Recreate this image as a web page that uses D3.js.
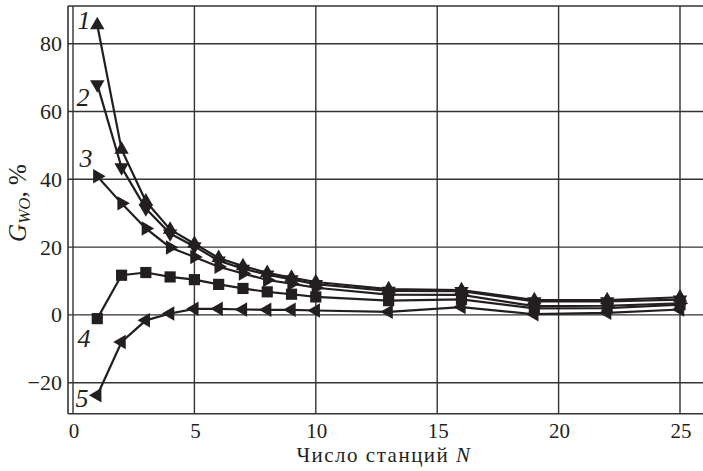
<!DOCTYPE html>
<html><head><meta charset="utf-8">
<script src="https://cdn.jsdelivr.net/npm/d3@7"></script>
<style>body{margin:0;background:#fff}svg{display:block}text{font-family:"Liberation Serif","DejaVu Serif",serif;fill:#231f20}</style>
</head><body><svg id="c" width="703" height="471"></svg>
<script>
const xs = [1,2,3,4,5,6,7,8,9,10,13,16,19,22,25];
const s1 = [85.5,48.8,33.5,25.2,21,16.8,14.4,12.4,11,9.7,7.6,7.3,4.4,4.4,5.2];
const s2 = [68,43.5,31.4,24,20.2,16,13.6,11.9,10.5,9.1,7.1,7,4,4,4.5];
const s3 = [40.9,32.9,25.5,19.9,17.1,14.2,12.2,10.3,9.2,8,6,5.9,2.6,2.7,3.4];
const s4 = [-1.1,11.7,12.5,11.2,10.4,9,7.8,6.8,6.1,5.3,4.2,4.6,1.9,2,3];
const s5 = [-23.7,-8,-1.6,0.4,1.8,1.8,1.6,1.5,1.5,1.3,0.9,2.3,0.2,0.6,1.6];
const xTicks = [0,5,10,15,20,25];
const yTicks = [-20,0,20,40,60,80];
const seriesNames = ["1","2","3","4","5"];

const svg = d3.select("#c");
const x = d3.scaleLinear().domain([0,25]).range([73,680]);
const y = d3.scaleLinear().domain([-20,80]).range([382.7,43.7]);
const fTop = 6, fBottom = 413.7, fLeft = 68, fRight = 703;
const ink = "#231f20";

// grid
svg.append("g").selectAll("line").data(yTicks).join("line")
  .attr("x1",fLeft).attr("x2",fRight).attr("y1",d=>y(d)).attr("y2",d=>y(d))
  .attr("stroke","#333").attr("stroke-width",1.4);
svg.append("g").selectAll("line").data(xTicks).join("line")
  .attr("x1",d=>x(d)).attr("x2",d=>x(d)).attr("y1",fTop).attr("y2",fBottom)
  .attr("stroke","#333").attr("stroke-width",1.4);
// frame
svg.append("line").attr("x1",fLeft).attr("x2",fRight).attr("y1",fTop).attr("y2",fTop).attr("stroke","#333").attr("stroke-width",1.6);
svg.append("line").attr("x1",fLeft).attr("x2",fRight).attr("y1",fBottom).attr("y2",fBottom).attr("stroke","#333").attr("stroke-width",1.6);
svg.append("line").attr("x1",fLeft).attr("x2",fLeft).attr("y1",fTop).attr("y2",fBottom).attr("stroke","#333").attr("stroke-width",1.6);

// tick labels
svg.append("g").selectAll("text").data(xTicks).join("text")
  .attr("x",d=>x(d)+1).attr("y",438).attr("text-anchor","middle").attr("font-size",21)
  .text(d=>d);
svg.append("g").selectAll("text").data(yTicks).join("text")
  .attr("x",62).attr("y",d=>y(d)+7.5).attr("text-anchor","end").attr("font-size",22)
  .text(d=>d<0?"\u2212"+Math.abs(d):d);

// axis titles
const xt = svg.append("text").attr("x",384).attr("y",462).attr("text-anchor","middle").attr("font-size",21).attr("letter-spacing",1.5);
xt.append("tspan").text("Число станций ");
xt.append("tspan").attr("font-style","italic").text("N");
const yt = svg.append("text").attr("transform","translate(26,203) rotate(-90)").attr("text-anchor","middle").attr("font-size",25);
yt.append("tspan").attr("font-style","italic").text("G");
yt.append("tspan").attr("font-style","italic").attr("font-size",17).attr("dy",4).text("WO");
yt.append("tspan").attr("dy",-4).text(", %");

// series
const data = [s1,s2,s3,s4,s5];
const line = d3.line().x((d,i)=>x(xs[i])).y(d=>y(d));
const rot = [0,180,90,0,-90];
const sym = [d3.symbolTriangle,d3.symbolTriangle,d3.symbolTriangle,d3.symbolSquare,d3.symbolTriangle];
const size = [90,90,90,125,90];
data.forEach((s,k)=>{
  svg.append("path").datum(s).attr("d",line).attr("fill","none").attr("stroke",ink).attr("stroke-width",2.2);
  svg.append("g").selectAll("path").data(s).join("path")
    .attr("d",d3.symbol().type(sym[k]).size(size[k]))
    .attr("transform",(d,i)=>`translate(${x(xs[i])},${y(d)}) rotate(${rot[k]})`)
    .attr("fill",ink);
});

// series labels
const labPos = [[84,29],[83,106],[86,167],[84,347],[82,407]];
svg.append("g").selectAll("text").data(seriesNames).join("text")
  .attr("x",(d,i)=>labPos[i][0]).attr("y",(d,i)=>labPos[i][1]).attr("text-anchor","middle")
  .attr("font-size",26).attr("font-style","italic").text(d=>d);
</script></body></html>
